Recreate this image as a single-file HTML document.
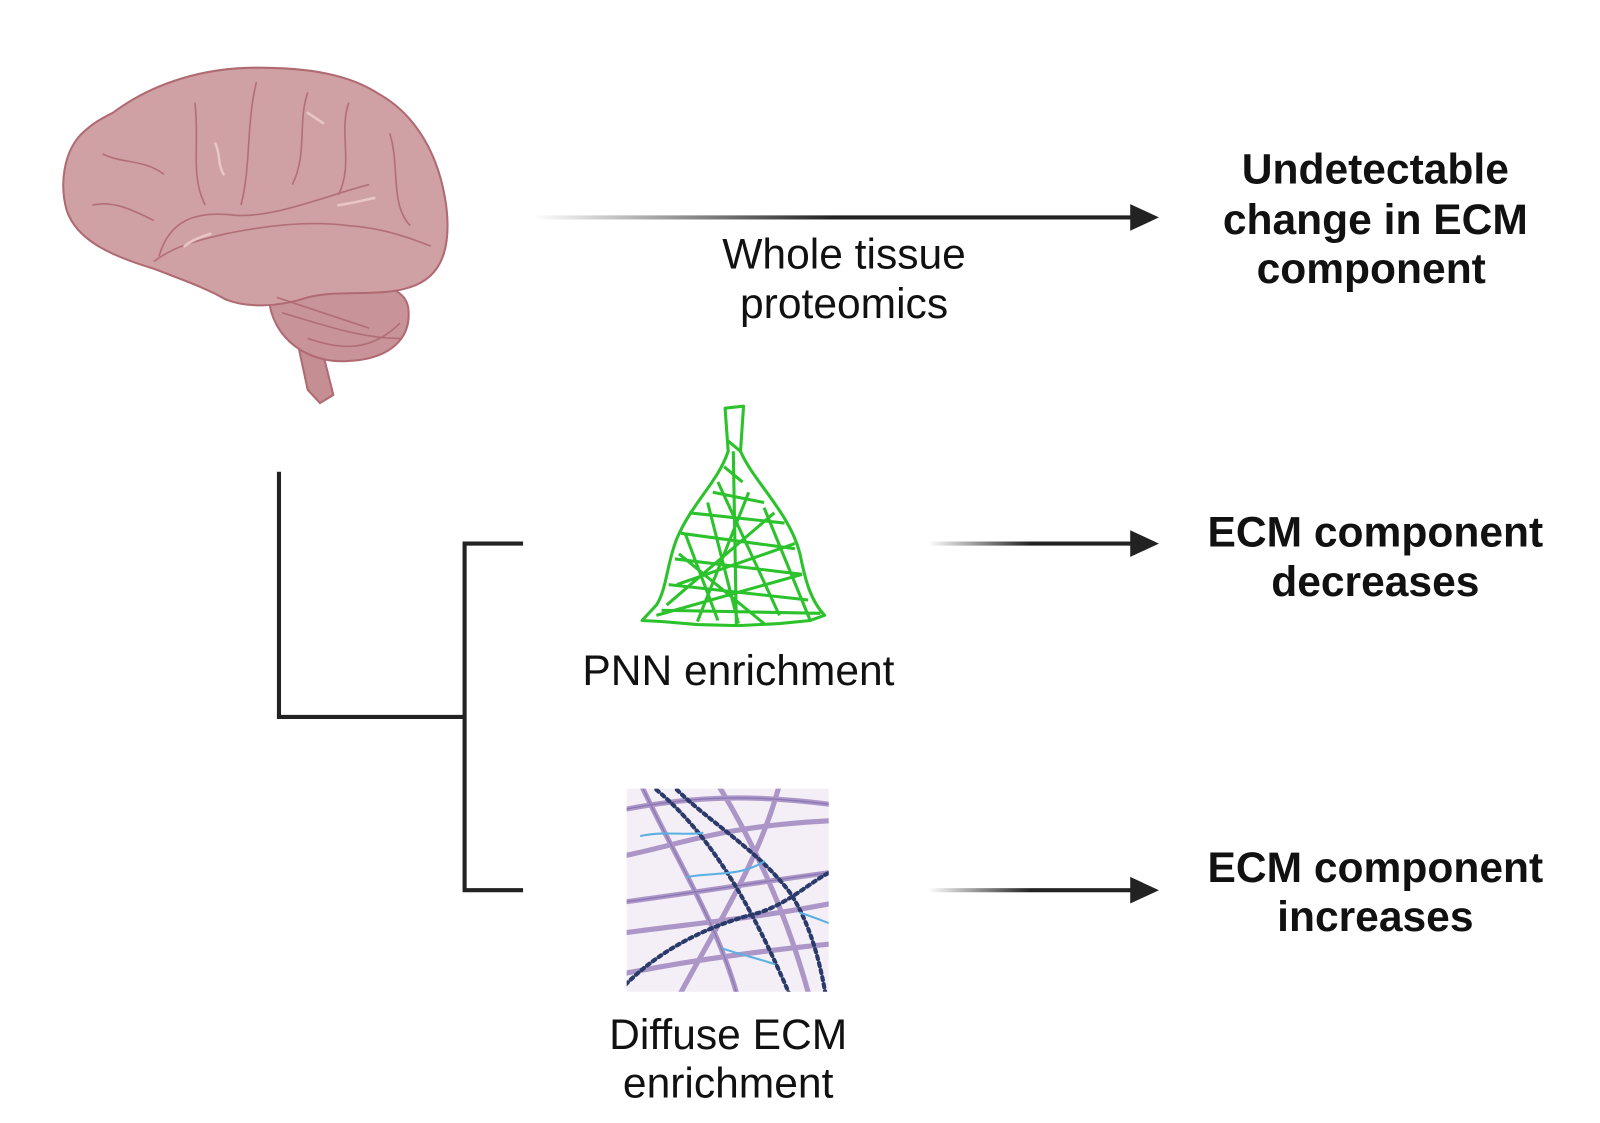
<!DOCTYPE html>
<html><head><meta charset="utf-8"><style>
html,body{margin:0;padding:0;background:#fff;}
svg{display:block}
text{font-family:"Liberation Sans",Arial,sans-serif;fill:#111}
</style></head><body>
<svg width="1600" height="1123" viewBox="0 0 1600 1123" xmlns="http://www.w3.org/2000/svg">
<defs>
<linearGradient id="g1" x1="0" x2="1" y1="0" y2="0"><stop offset="0" stop-color="#222" stop-opacity="0"/><stop offset="0.5" stop-color="#222"/><stop offset="1" stop-color="#222"/></linearGradient>
<linearGradient id="g2" x1="0" x2="1" y1="0" y2="0"><stop offset="0" stop-color="#222" stop-opacity="0"/><stop offset="0.5" stop-color="#222"/><stop offset="1" stop-color="#222"/></linearGradient>
<clipPath id="sq"><rect x="611" y="769" width="197" height="198"/></clipPath>
</defs>
<g transform="scale(1.0256)">
<!-- Brain -->
<g stroke="#b06a72" stroke-width="2">
<path d="M285 310 L300 380 L312 393 L325 385 L315 345 Z" fill="#c48e93"/>
<path d="M262 290 C265 330 300 355 340 352 C380 350 402 330 398 300 C395 280 370 275 330 278 C300 280 270 280 262 290 Z" fill="#c8949a"/>
<path d="M110 110 C150 80 200 66 250 66 C300 66 340 72 370 92 C405 112 428 150 435 200 C440 240 432 270 400 280 C370 290 330 282 300 290 C270 300 240 300 220 292 C200 280 170 270 150 262 C110 250 75 235 65 205 C58 180 62 150 78 132 C90 120 100 115 110 110 Z" fill="#cfa1a4"/>
</g>
<g fill="none" stroke="#b06a72" stroke-width="1.6" opacity="0.9">
<path d="M150 255 C170 240 190 235 220 228 C260 220 300 215 340 220 C370 222 395 230 420 240"/>
<path d="M155 250 C165 215 190 205 230 210 C270 212 320 190 360 180"/>
<path d="M190 100 C195 140 185 170 200 200"/>
<path d="M250 80 C240 120 245 160 235 200"/>
<path d="M300 90 C290 120 300 150 285 180"/>
<path d="M340 100 C330 130 345 160 330 190"/>
<path d="M100 150 C120 160 140 155 160 170"/>
<path d="M90 200 C110 195 130 205 150 215"/>
<path d="M380 130 C390 160 380 200 400 220"/>
<path d="M270 290 C300 300 330 310 360 320 M275 305 C310 315 350 330 390 330 M300 330 C330 340 360 345 390 315"/>
</g>
<g fill="none" stroke="#e8c6c8" stroke-width="2.5" stroke-linecap="round">
<path d="M210 140 C215 150 212 160 218 170"/><path d="M300 110 L315 120"/><path d="M330 200 C345 198 355 195 365 193"/><path d="M180 240 C190 232 200 230 205 228"/>
</g>

<!-- connectors -->
<g stroke="#222" stroke-width="4" fill="none">
<path d="M272 460 V699 H453"/>
<path d="M510 530 H453 V868 H510"/>
</g>
<rect x="520" y="210" width="585" height="4" fill="url(#g1)"/>
<polygon points="1102,199 1130,212 1102,225" fill="#222"/>
<rect x="905" y="528" width="200" height="4" fill="url(#g2)"/>
<polygon points="1102,517 1130,530 1102,543" fill="#222"/>
<rect x="905" y="866" width="200" height="4" fill="url(#g2)"/>
<polygon points="1102,855 1130,868 1102,881" fill="#222"/>

<!-- PNN -->
<g stroke="#2cc22c" stroke-width="3" fill="none" stroke-linejoin="round">
<path d="M707 398 L725 396 L722 440 C735 470 770 500 780 540 C785 565 790 585 804 600 L790 605 L760 608 L720 610 L680 609 L645 606 L626 605 L640 590 C650 575 650 550 660 525 C675 490 700 470 710 440 Z"/>
<path d="M710 430 L722 440 M706 455 L724 470 M695 480 L745 490 M672 500 L765 510 M664 520 L775 535 M658 545 L782 560 M652 570 L788 585 M645 595 L800 598 M700 470 L760 600 M690 490 L720 608 M668 520 L700 605 M730 480 L680 606 M755 500 L650 590 M775 530 L660 570 M782 560 L640 600 M715 440 L718 610 M745 495 L790 605 M662 540 L745 608"/>
</g>

<!-- Diffuse ECM -->
<rect x="611" y="769" width="197" height="198" fill="#f4eef6"/>
<g clip-path="url(#sq)" fill="none" stroke-linecap="round">
<g stroke="#a58cc4" stroke-width="5" opacity="0.9">
<path d="M605 790 C680 775 740 775 815 785"/>
<path d="M605 835 C660 825 700 805 815 800"/>
<path d="M605 880 C680 870 740 860 815 850"/>
<path d="M605 910 C680 900 740 895 815 880"/>
<path d="M605 950 C680 935 760 925 815 920"/>
<path d="M625 765 C660 840 700 900 720 975"/>
<path d="M700 765 C740 830 770 900 790 975"/>
<path d="M760 765 C740 840 700 900 660 975"/>
</g>
<g stroke="#7a68a8" stroke-width="1.2" opacity="0.7">
<path d="M605 790 C680 775 740 775 815 785"/><path d="M605 880 C680 870 740 860 815 850"/><path d="M625 765 C660 840 700 900 720 975"/>
</g>
<g stroke="#2a3a6a" stroke-width="4" stroke-dasharray="3 4">
<path d="M660 770 C690 800 740 830 770 870 C790 900 800 940 805 970"/>
<path d="M610 960 C650 920 700 900 740 890 C770 880 790 860 810 850"/>
<path d="M640 770 C700 820 740 900 770 970"/>
</g>
<g stroke="#5ab0e0" stroke-width="2">
<path d="M625 815 C650 810 670 815 685 812"/>
<path d="M670 855 C700 850 720 855 745 840"/>
<path d="M705 925 C720 930 740 935 755 940"/>
<path d="M780 890 C790 893 800 897 808 900"/>
</g>
</g>

<!-- Texts -->
<g font-size="41.5" text-anchor="middle">
<text x="823" y="262">Whole tissue</text>
<text x="823" y="310">proteomics</text>
<text x="720" y="668">PNN enrichment</text>
<text x="710" y="1023">Diffuse ECM</text>
<text x="710" y="1070">enrichment</text>
</g>
<g font-size="41.5" font-weight="bold" text-anchor="middle">
<text x="1341" y="179">Undetectable</text>
<text x="1341" y="228">change in ECM</text>
<text x="1337" y="276">component</text>
<text x="1341" y="533">ECM component</text>
<text x="1341" y="581">decreases</text>
<text x="1341" y="860">ECM component</text>
<text x="1341" y="908">increases</text>
</g>
</g>
</svg>
</body></html>
